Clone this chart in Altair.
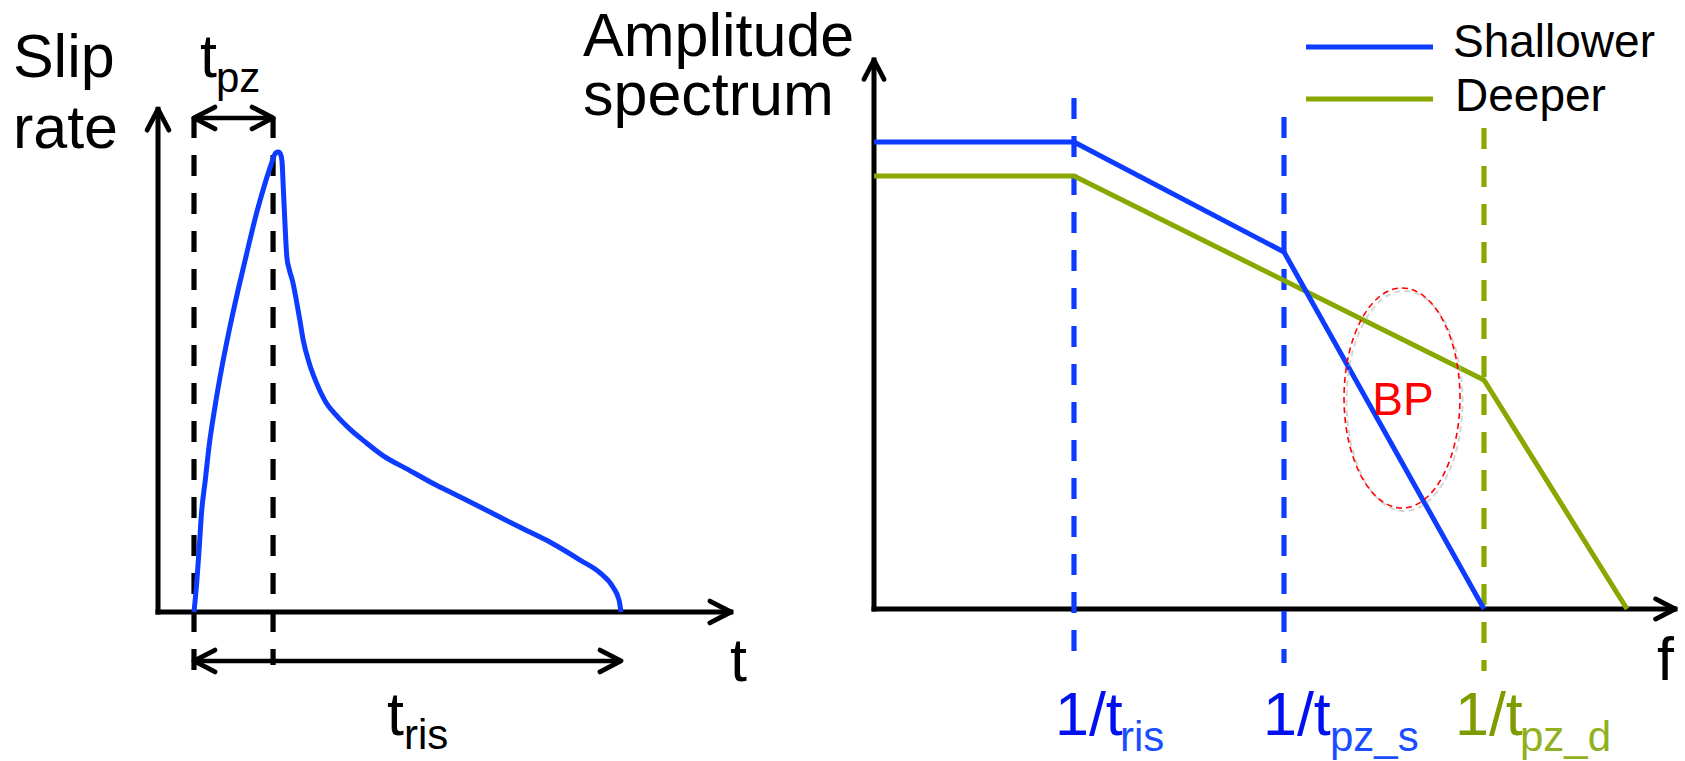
import altair as alt
import pandas as pd

FONT = "Liberation Sans"
BLACK = "#000000"
BLUE = "#0d3bff"
GREEN = "#88a800"
RED = "#ff0000"

# ---------------------------------------------------------------------------
# Left panel: slip-rate function (time in units of t_pz, rate normalised)
# ---------------------------------------------------------------------------
slip_t = [0.0, 0.035, 0.066, 0.094, 0.143, 0.191, 0.264, 0.349, 0.446, 0.555,
          0.670, 0.791, 0.895, 0.974, 1.034, 1.07, 1.095, 1.113, 1.13, 1.156,
          1.174, 1.204, 1.247, 1.295, 1.338, 1.380, 1.459, 1.549, 1.671, 1.792,
          1.975, 2.156, 2.399, 2.703, 3.006, 3.309, 3.612, 3.915, 4.219, 4.522,
          4.882, 5.135, 5.299, 5.375, 5.40]
slip_rate = [0.0, 0.065, 0.139, 0.213, 0.287, 0.361, 0.445, 0.529, 0.613, 0.698,
             0.782, 0.867, 0.930, 0.972, 0.998, 1.0, 0.995, 0.98, 0.92, 0.824,
             0.772, 0.745, 0.719, 0.677, 0.635, 0.592, 0.540, 0.498, 0.455, 0.429,
             0.397, 0.371, 0.339, 0.310, 0.281, 0.255, 0.229, 0.202, 0.176, 0.150,
             0.113, 0.085, 0.054, 0.026, 0.0]
t_pz = 1.0
t_ris = 5.4

# ---------------------------------------------------------------------------
# Right panel: schematic log-log amplitude spectra
# ---------------------------------------------------------------------------
series_names = ["Shallower", "Deeper"]
shallow_logf = [0.0, 2.0, 4.1, 6.1]
shallow_logA = [4.67, 4.67, 3.57, 0.0]
deep_logf = [0.0, 2.0, 6.1, 7.53]
deep_logA = [4.33, 4.33, 2.29, 0.0]
corner_logf = [2.0, 4.1, 6.1]          # 1/t_ris, 1/t_pz_s, 1/t_pz_d
corner_subscripts = ["ris", "pz_s", "pz_d"]
bp_center = (5.28, 2.11)                 # "BP" zone on the spectra

# scales (data -> canvas pixels)
lx = alt.Scale(domain=[0, t_ris], range=[194, 621], nice=False, zero=False)
ly = alt.Scale(domain=[0, 1], range=[612, 152], nice=False, zero=False)
rx = alt.Scale(domain=[0, 8], range=[874, 1674], nice=False, zero=False)
ry = alt.Scale(domain=[0, 5], range=[609, 109], nice=False, zero=False)

CHEV_UP = "M-0.52,1L0,0L0.52,1"
CHEV_RIGHT = "M-1,-0.52L0,0L-1,0.52"
CHEV_LEFT = "M1,-0.52L0,0L1,0.52"
ELLIPSE = ("M0,-1C0.291,-1 0.527,-0.552 0.527,0C0.527,0.552 0.291,1 0,1"
           "C-0.291,1 -0.527,0.552 -0.527,0C-0.527,-0.552 -0.291,-1 0,-1Z")

W_AXIS = 5
W_LINE = 5
W_DASH = 5.2


def enc_xy(xs, ys):
    return dict(x=alt.X("x:Q", scale=xs, axis=None),
                y=alt.Y("y:Q", scale=ys, axis=None))


def segments(rows, xs, ys, color, width, dash=None, cap="square"):
    df = pd.DataFrame(rows, columns=["x", "y", "x2", "y2"])
    kw = dict(color=color, strokeWidth=width, strokeCap=cap)
    if dash:
        kw["strokeDash"] = dash
        kw["strokeCap"] = "butt"
    return alt.Chart(df).mark_rule(**kw).encode(
        x2="x2:Q", y2="y2:Q", **enc_xy(xs, ys))


def heads(points, shape, xs, ys, color=BLACK, width=4.8, size=1764,
          dash=None, opacity=1):
    df = pd.DataFrame(points, columns=["x", "y"])
    kw = dict(shape=shape, filled=False, fill=None, stroke=color,
              strokeWidth=width, strokeJoin="round", strokeCap="round",
              size=size, opacity=opacity)
    if dash:
        kw["strokeDash"] = dash
        kw["strokeCap"] = "butt"
    return alt.Chart(df).mark_point(**kw).encode(**enc_xy(xs, ys))


def label(items, xs, ys, size, color, align="left"):
    df = pd.DataFrame(items, columns=["label", "x", "y"])
    return alt.Chart(df).mark_text(
        font=FONT, fontSize=size, color=color, align=align,
        baseline="alphabetic"
    ).encode(text="label:N", **enc_xy(xs, ys))


def polyline(xv, yv, xs, ys, color, width, interp="linear"):
    df = pd.DataFrame({"x": xv, "y": yv, "i": range(len(xv))})
    return alt.Chart(df).mark_line(
        color=color, strokeWidth=width, interpolate=interp, strokeJoin="round"
    ).encode(order="i:Q", **enc_xy(xs, ys))


# ----------------------------- left panel ---------------------------------
t0 = -0.455                       # time-axis origin
left = alt.layer(
    segments([(t0, 0, t0, 1.093), (t0, 0, 6.79, 0)], lx, ly, BLACK, W_AXIS),
    heads([(t0, 1.093)], CHEV_UP, lx, ly),
    heads([(6.79, 0)], CHEV_RIGHT, lx, ly),
    segments([(0, 1.076, 0, -0.126), (t_pz, 1.076, t_pz, -0.115)], lx, ly,
             BLACK, W_DASH, dash=[21, 17]),
    segments([(0, 1.074, t_pz, 1.074), (0, -0.1065, t_ris, -0.1065)], lx, ly,
             BLACK, 4.6, cap="butt"),
    heads([(0, 1.074), (0, -0.1065)], CHEV_LEFT, lx, ly),
    heads([(t_pz, 1.074), (t_ris, -0.1065)], CHEV_RIGHT, lx, ly),
    polyline(slip_t, slip_rate, lx, ly, BLUE, W_LINE, "monotone"),
    label([("Slip", -2.29, 1.163), ("rate", -2.29, 1.009),
           ("t", 0.076, 1.163), ("t", 6.78, -0.15), ("t", 2.44, -0.267)],
          lx, ly, 61, BLACK),
    label([("pz", 0.278, 1.130), ("ris", 2.656, -0.298)], lx, ly, 42, BLACK),
)

# ----------------------------- right panel --------------------------------
shadow = (bp_center[0] + 0.025, bp_center[1] - 0.03)
right = alt.layer(
    segments([(0, 0, 0, 5.49), (0, 0, 8.01, 0)], rx, ry, BLACK, W_AXIS),
    heads([(0, 5.49)], CHEV_UP, rx, ry, size=1500),
    heads([(8.01, 0)], CHEV_RIGHT, rx, ry, size=1500),
    segments([(corner_logf[0], 5.11, corner_logf[0], -0.54),
              (corner_logf[1], 4.92, corner_logf[1], -0.54)], rx, ry,
             BLUE, W_DASH, dash=[21, 17]),
    segments([(corner_logf[2], 4.81, corner_logf[2], -0.62)], rx, ry,
             GREEN, W_DASH, dash=[21, 17]),
    polyline(deep_logf, deep_logA, rx, ry, GREEN, W_LINE),
    polyline(shallow_logf, shallow_logA, rx, ry, BLUE, W_LINE),
    # legend
    segments([(4.32, 5.62, 5.59, 5.62)], rx, ry, BLUE, 5.2, cap="butt"),
    segments([(4.32, 5.10, 5.59, 5.10)], rx, ry, GREEN, 5.2, cap="butt"),
    label([(series_names[0], 5.79, 5.52), (series_names[1], 5.81, 4.98)],
          rx, ry, 46, BLACK),
    # BP zone: dashed ellipse with a soft drop shadow
    heads([shadow], ELLIPSE, rx, ry, color="#b8b8b8", width=2, size=48400,
          dash=[6, 4], opacity=0.6),
    heads([bp_center], ELLIPSE, rx, ry, color=RED, width=1.6, size=48400,
          dash=[6, 4]),
    label([("BP", 5.29, 1.94)], rx, ry, 46, RED, align="center"),
    # axis captions
    label([("Amplitude", -2.91, 5.53), ("spectrum", -2.91, 4.94),
           ("f", 7.83, -0.71)], rx, ry, 61, BLACK),
    label([("1/t", 1.81, -1.26), ("1/t", 3.89, -1.26)], rx, ry, 61, "#0010f0"),
    label([(corner_subscripts[0], 2.46, -1.42),
           (corner_subscripts[1], 4.56, -1.42)], rx, ry, 42, "#1a4dff"),
    label([("1/t", 5.81, -1.26)], rx, ry, 61, "#7d9c00"),
    label([(corner_subscripts[2], 6.46, -1.42)], rx, ry, 42, "#8fb020"),
)

chart = (
    alt.layer(left, right)
    .resolve_scale(x="independent", y="independent")
    .properties(width=1685, height=761, padding=0,
                autosize=alt.AutoSizeParams(type="none"))
    .configure_view(stroke=None)
)

chart.save("out.html", embed_options={"renderer": "svg", "actions": False})
